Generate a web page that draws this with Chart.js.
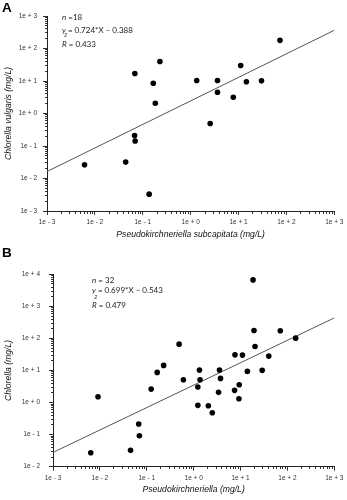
<!DOCTYPE html>
<html>
<head>
<meta charset="utf-8">
<script src="https://cdn.jsdelivr.net/npm/chart.js@4.4.1/dist/chart.umd.min.js"></script>
<style>
  html, body { margin: 0; padding: 0; background: #fff; }
  #wrap { position: relative; width: 347px; height: 500px; overflow: hidden; font-family: 'Liberation Sans', Arial, sans-serif; }
  .box { position: absolute; left: 0; width: 347px; }
  #boxA { top: 0; height: 245px; }
  #boxB { top: 245px; height: 255px; }
  .panel { position: absolute; font-weight: bold; font-size: 13.5px; line-height: 1; color: #000; }
  .eq { position: absolute; font-family: Lato, 'Open Sans', sans-serif; font-size: 8px; line-height: 1; color: #222; white-space: nowrap; }
  .eq i { font-style: italic; }
  .sup { position: absolute; font-family: Lato, 'Open Sans', sans-serif; font-size: 5.5px; line-height: 1; color: #222; font-style: italic; }
</style>
</head>
<body>
<div id="wrap">
  <div class="box" id="boxA"><canvas id="chartA"></canvas></div>
  <div class="box" id="boxB"><canvas id="chartB"></canvas></div>

  <div class="panel" style="left:2px; top:1px;">A</div>
  <div class="panel" style="left:2px; top:246px;">B</div>

  <div class="eq" style="left:62px; top:13px;"><i>n</i> =18</div>
  <div class="eq" style="left:62px; top:25.5px;"><i>y</i> = 0.724*X – 0.388</div>
  <div class="sup" style="left:64px; top:33px;">2</div>
  <div class="eq" style="left:62px; top:40px;"><i>R</i> = 0.433</div>

  <div class="eq" style="left:92px; top:276px;"><i>n</i> = 32</div>
  <div class="eq" style="left:92px; top:286px;"><i>y</i> = 0.699*X – 0.543</div>
  <div class="sup" style="left:94px; top:294.5px;">2</div>
  <div class="eq" style="left:92px; top:301px;"><i>R</i> = 0.479</div>
</div>

<script>
// Panel A: Pseudokirchneriella subcapitata vs Chlorella vulgaris (mg/L)
const pseudoA    = [73.5, 0.228, 0.0684, 0.166, 1.34, 3.64, 11.1, 14.6, 30.2, 3.64, 7.78, 0.183, 2.56, 0.0675, 0.0693, 0.044, 0.00608, 0.136];
const chlorellaA = [178, 40, 17.1, 8.57, 10.4, 10.4, 30.1, 9.5, 10.1, 4.52, 3.17, 2.07, 0.49, 0.209, 0.142, 0.032, 0.0266, 0.0033];

// Panel B: Pseudokirchneriella vs Chlorella (mg/L)
const pseudoB    = [18.5, 19.4, 70.6, 150, 0.49, 20.4, 7.62, 11.0, 40.1, 0.229, 0.167, 1.33, 3.56, 0.604, 1.37, 3.74, 14.0, 29.0, 1.23, 0.124, 9.38, 7.47, 3.40, 0.00912, 1.23, 2.06, 9.25, 2.50, 0.0673, 0.0697, 0.0451, 0.00638];
const chlorellaB = [6700, 177, 173, 102, 66.4, 56.3, 30.8, 30.2, 28.1, 14.4, 8.73, 10.3, 10.3, 5.13, 5.13, 5.67, 9.38, 10.1, 3.04, 2.63, 3.58, 2.40, 2.08, 1.52, 0.818, 0.794, 1.31, 0.481, 0.214, 0.0925, 0.0324, 0.0273];

// Regression lines (end points across the full x range)
const fitXA = [0.001, 1000];
const fitYA = [0.0164, 363];
const fitXB = [0.001, 1000];
const fitYB = [0.0279, 437];

// Decade exponents and their tick labels
const xExp       = [-3, -2, -1, 0, 1, 2, 3];
const xLabels    = ['1e - 3', '1e - 2', '1e - 1', '1e + 0', '1e + 1', '1e + 2', '1e + 3'];
const yExpA      = [-3, -2, -1, 0, 1, 2, 3];
const yLabelsA   = ['1e - 3', '1e - 2', '1e - 1', '1e + 0', '1e + 1', '1e + 2', '1e + 3'];
const yExpB      = [-2, -1, 0, 1, 2, 3, 4];
const yLabelsB   = ['1e - 2', '1e - 1', '1e + 0', '1e + 1', '1e + 2', '1e + 3', '1e + 4'];

function toPoints(xs, ys) {
  return xs.map((x, i) => ({ x: x, y: ys[i] }));
}

// 1..9 times each power of ten, closing on the last decade
function decadeTicks(exps) {
  const t = [];
  exps.forEach((e, i) => {
    const last = i === exps.length - 1;
    for (let m = 1; m <= (last ? 1 : 9); m++) {
      t.push({ value: Number((m * Math.pow(10, e)).toPrecision(6)), major: m === 1 });
    }
  });
  return t;
}

const tickFont  = { family: "'Liberation Sans', Arial, sans-serif", size: 6.5 };
const titleFont = { family: "'Liberation Sans', Arial, sans-serif", size: 8.6, style: 'italic' };

function logAxis(exps, labels, opts) {
  return {
    type: 'logarithmic',
    min: Math.pow(10, exps[0]),
    max: Math.pow(10, exps[exps.length - 1]),
    afterBuildTicks: (s) => { s.ticks = decadeTicks(exps); },
    afterFit: opts.afterFit,
    ticks: {
      autoSkip: false,
      maxRotation: 0,
      minRotation: 0,
      font: tickFont,
      color: '#333',
      padding: opts.tickPad,
      callback: function (v, i, t) {
        if (!t[i] || !t[i].major) return '';
        return labels[exps.indexOf(Math.round(Math.log10(v)))];
      }
    },
    grid: {
      drawOnChartArea: false,
      drawTicks: true,
      tickLength: 4,
      tickColor: '#333',
      tickWidth: 1,
      tickBorderDash: (ctx) => (ctx.tick && ctx.tick.major) ? [] : opts.minorDash
    },
    border: { display: true, color: '#222', width: 1 },
    title: {
      display: true,
      text: opts.title,
      font: titleFont,
      color: '#111',
      padding: opts.titlePad
    }
  };
}

function makeChart(id, px, py, fx, fy, yExp, yLabels, cfg) {
  return new Chart(document.getElementById(id), {
    type: 'scatter',
    data: {
      datasets: [
        {
          data: toPoints(px, py),
          pointRadius: 2.8,
          pointBackgroundColor: '#000',
          pointBorderWidth: 0,
          order: 0
        },
        {
          data: toPoints(fx, fy),
          showLine: true,
          borderColor: '#555',
          borderWidth: 1,
          pointRadius: 0,
          order: 1
        }
      ]
    },
    options: {
      responsive: true,
      maintainAspectRatio: false,
      animation: false,
      events: [],
      layout: { padding: cfg.padding },
      plugins: { legend: { display: false }, tooltip: { enabled: false } },
      scales: {
        x: logAxis(xExp, xLabels, {
          title: cfg.xTitle,
          tickPad: 3.6,
          titlePad: { top: 0, bottom: cfg.xTitleBottom },
          minorDash: [2, 10],
          afterFit: (s) => { s.height = cfg.xHeight; }
        }),
        y: logAxis(yExp, yLabels, {
          title: cfg.yTitle,
          tickPad: cfg.yTickPad,
          titlePad: { top: 3, bottom: 0 },
          minorDash: [0, 2, 2, 10],
          afterFit: (s) => { s.width = cfg.yWidth; }
        })
      }
    }
  });
}

makeChart('chartA', pseudoA, chlorellaA, fitXA, fitYA, yExpA, yLabelsA, {
  padding: { left: 0, top: 16, right: 8.5, bottom: 0 },
  xTitle: 'Pseudokirchneriella subcapitata (mg/L)',
  yTitle: 'Chlorella vulgaris (mg/L)',
  xHeight: 34,
  xTitleBottom: 4.8,
  yWidth: 47,
  yTickPad: 6
});

makeChart('chartB', pseudoB, chlorellaB, fitXB, fitYB, yExpB, yLabelsB, {
  padding: { left: 0, top: 29.3, right: 8.5, bottom: 0 },
  xTitle: 'Pseudokirchneriella (mg/L)',
  yTitle: 'Chlorella (mg/L)',
  xHeight: 33.3,
  xTitleBottom: 4.8,
  yWidth: 53,
  yTickPad: 9
});
</script>
</body>
</html>
